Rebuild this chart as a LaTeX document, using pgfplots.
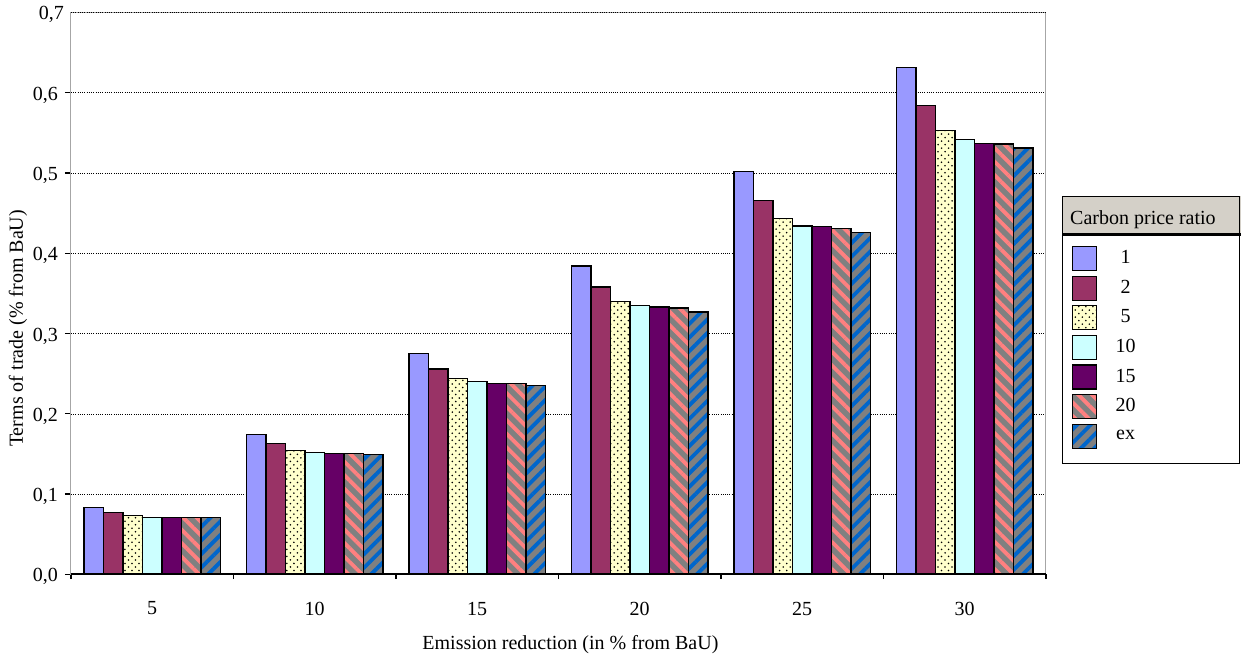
\documentclass[border=0pt]{standalone}
\usepackage{fontspec}
\setmainfont{Liberation Serif}
\usepackage{pgfplots}
\pgfplotsset{compat=1.18}
\usetikzlibrary{patterns,patterns.meta}

\definecolor{cA}{HTML}{9999FF}
\definecolor{cB}{HTML}{993366}
\definecolor{cC}{HTML}{FFFFCC}
\definecolor{cD}{HTML}{CCFFFF}
\definecolor{cE}{HTML}{660066}
\definecolor{cG}{HTML}{808080}
\definecolor{cPink}{HTML}{FF8080}
\definecolor{cBlue}{HTML}{0066CC}
\definecolor{hdr}{HTML}{D4D0C8}

\pgfdeclarepatternformonly{stagdots}{\pgfqpoint{-1pt}{-1pt}}{\pgfqpoint{5.4pt}{5.4pt}}{\pgfqpoint{4.4pt}{4.4pt}}{%
  \pgfpathcircle{\pgfqpoint{1.1pt}{1.1pt}}{0.55pt}%
  \pgfpathcircle{\pgfqpoint{3.3pt}{3.3pt}}{0.55pt}%
  \pgfusepath{fill}}

\pgfplotsset{
  mybar/.style={draw=black, line width=0.8pt,
    legend image code/.code={\draw[##1,line width=0.8pt] (0pt,-7.5pt) rectangle (15pt,7.5pt);}},
}

\begin{document}
\fontsize{12.5}{14.5}\selectfont
\begin{tikzpicture}
\begin{axis}[
  scale only axis,
  width=609.375pt, height=351.25pt,
  clip=false,
  ybar=0pt, bar width=12.19pt,
  xmin=-0.5, xmax=5.5,
  ymin=0, ymax=0.7,
  xtick={0,1,2,3,4,5},
  xticklabels={5,10,15,20,25,30},
  minor xtick={-0.5,0.5,1.5,2.5,3.5,4.5,5.5},
  ytick={0,0.1,0.2,0.3,0.4,0.5,0.6},
  extra y ticks={0.7},
  extra y tick style={major tick length=0pt},
  tick pos=left,
  tick align=outside,
  major tick length=3.75pt,
  minor tick length=3pt,
  x tick style={draw=none},
  minor x tick style={draw=black, line width=0.8pt},
  y tick style={draw=black, line width=0.8pt},
  ymajorgrids,
  major grid style={black, densely dotted, line width=0.4pt},
  axis line style={draw=gray!70, line width=0.6pt},
  xticklabel style={yshift=-9pt},
  yticklabel style={yshift=-1.5pt, /pgf/number format/.cd, fixed, fixed zerofill, precision=1, use comma},
  /pgf/number format/assume math mode=true,
  xlabel={Emission reduction (in \% from BaU)},
  ylabel={Terms of trade (\% from BaU)},
  xlabel style={at={(axis description cs:0.5123,-0.1246)}, anchor=center},
  ylabel style={at={(axis description cs:-0.0544,0.4377)}, anchor=center, rotate=0},
  legend cell align=center,
  legend style={draw=none, fill=none, inner sep=0pt, outer sep=0pt,
    at={(rel axis cs:1.02667,0.58438)}, anchor=north west,
    row sep=2.7pt, column sep=9.5pt},
]
\addplot[mybar, fill=cA] coordinates {(0,0.083) (1,0.174) (2,0.275) (3,0.384) (4,0.502) (5,0.631)};
\addlegendentry{1}
\addplot[mybar, fill=cB] coordinates {(0,0.077) (1,0.163) (2,0.256) (3,0.358) (4,0.466) (5,0.584)};
\addlegendentry{2}
\addplot[mybar, fill=cC, postaction={pattern=stagdots, pattern color=black}] coordinates {(0,0.073) (1,0.154) (2,0.244) (3,0.340) (4,0.443) (5,0.553)};
\addlegendentry{5}
\addplot[mybar, fill=cD] coordinates {(0,0.071) (1,0.152) (2,0.240) (3,0.335) (4,0.434) (5,0.542)};
\addlegendentry{10}
\addplot[mybar, fill=cE] coordinates {(0,0.071) (1,0.151) (2,0.238) (3,0.333) (4,0.433) (5,0.537)};
\addlegendentry{15}
\addplot[mybar, fill=cG, postaction={pattern={Lines[angle=-45,distance=6pt,line width=2.4pt]}, pattern color=cPink}] coordinates {(0,0.071) (1,0.151) (2,0.238) (3,0.332) (4,0.431) (5,0.536)};
\addlegendentry{20}
\addplot[mybar, fill=cG, postaction={pattern={Lines[angle=45,distance=6pt,line width=2.4pt]}, pattern color=cBlue}] coordinates {(0,0.071) (1,0.149) (2,0.235) (3,0.327) (4,0.426) (5,0.531)};
\addlegendentry{ex}

\draw[black, line width=1.2pt] (rel axis cs:0,0) -- (rel axis cs:1,0);
% legend frame and header
\fill[hdr] (rel axis cs:1.01744,0.67260) rectangle (rel axis cs:1.2,0.60498);
\draw[black, line width=1.4pt] (rel axis cs:1.01744,0.60498) -- (rel axis cs:1.2,0.60498);
\draw[black, line width=0.6pt] (rel axis cs:1.01744,0.67260) rectangle (rel axis cs:1.199,0.19751);
\node[anchor=west, inner sep=0pt] at (rel axis cs:1.02462,0.6317) {Carbon price ratio};
% bounding box
\path (rel axis cs:-0.0728,-0.1477) rectangle (rel axis cs:1.20103,1.0196);
\end{axis}
\end{tikzpicture}
\end{document}
